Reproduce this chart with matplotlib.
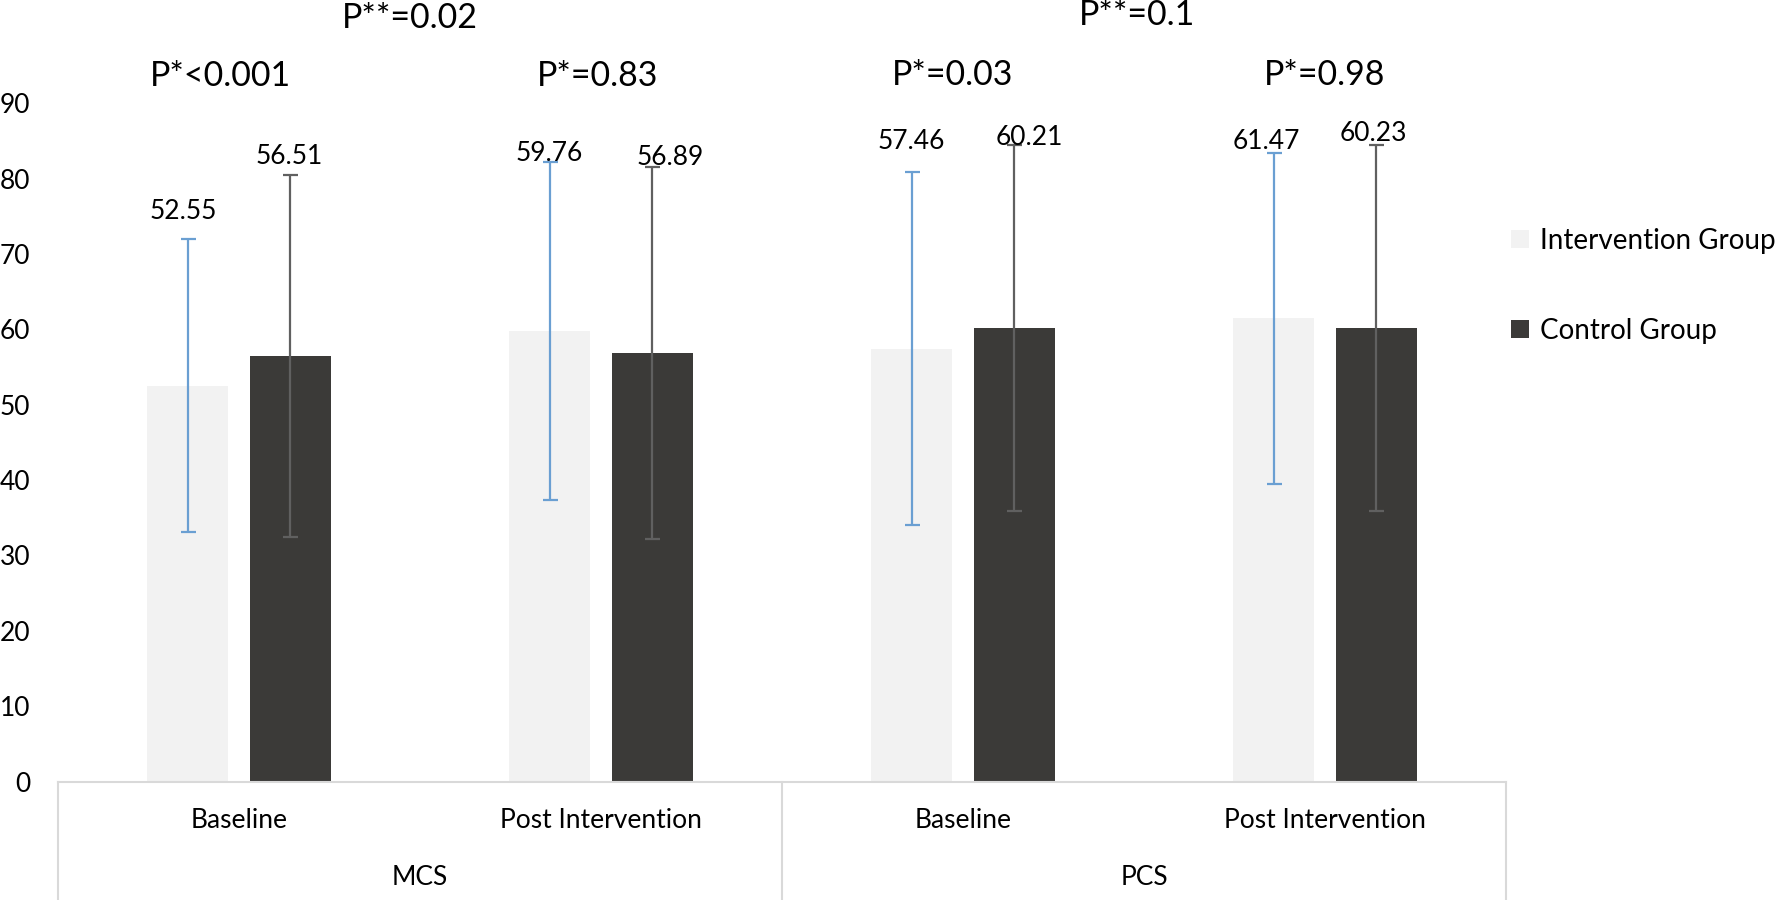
import matplotlib

matplotlib.use("Agg")
import matplotlib.pyplot as plt
import matplotlib.transforms as mtransforms
import numpy as np

plt.rcParams["font.family"] = ["Lato", "DejaVu Sans"]

# data
phases = ["Baseline", "Post Intervention", "Baseline", "Post Intervention"]
scales = ["MCS", "PCS"]
series = ["Intervention Group", "Control Group"]
intervention_mean = [52.55, 59.76, 57.46, 61.47]
intervention_sd = [19.5, 22.4, 23.4, 22.0]
control_mean = [56.51, 56.89, 60.21, 60.23]
control_sd = [24.0, 24.7, 24.3, 24.3]
p_within = ["P*<0.001", "P*=0.83", "P*=0.03", "P*=0.98"]
p_between = ["P**=0.02", "P**=0.1"]
yticks = list(range(0, 100, 10))

# hand-placed label positions (as in the source figure)
int_label_dx = [-0.012, 0.0, 0.0, -0.02]
int_label_y = [75.6, 83.3, 84.9, 84.9]
ctl_label_dx = [-0.003, 0.048, 0.04, -0.007]
ctl_label_y = [83.0, 82.8, 85.4, 86.0]
p_within_x = [-0.05, 0.99, 1.97, 3.0]
p_within_y = [93.6, 93.6, 93.7, 93.7]
p_between_x = [0.473, 2.48]
p_between_y = [101.3, 101.7]

INT_FILL, CTL_FILL = "#f2f2f2", "#3b3a38"
INT_ERR, CTL_ERR = "#6a9fd2", "#606060"
BOX = "#d9d9d9"
FS = 19

fig = plt.figure(figsize=(17.76, 9.0), dpi=100)
ax = fig.add_axes([58 / 1776, 1 - 781.5 / 900, (1506 - 58) / 1776, (781.5 - 103.3) / 900])

x = np.arange(len(phases))
w, off = 0.224, 0.142
ax.bar(x - off, intervention_mean, w, color=INT_FILL, label=series[0], zorder=2)
ax.bar(x + off, control_mean, w, color=CTL_FILL, label=series[1], zorder=2)
ax.errorbar(x - off, intervention_mean, yerr=intervention_sd, fmt="none",
            ecolor=INT_ERR, elinewidth=1.6, capsize=5.4, capthick=1.6, zorder=3)
ax.errorbar(x + off, control_mean, yerr=control_sd, fmt="none",
            ecolor=CTL_ERR, elinewidth=1.6, capsize=5.4, capthick=1.6, zorder=3)

for i in range(len(phases)):
    ax.text(x[i] - off + int_label_dx[i], int_label_y[i], f"{intervention_mean[i]:.2f}",
            ha="center", va="center", fontsize=FS, zorder=4)
    ax.text(x[i] + off + ctl_label_dx[i], ctl_label_y[i], f"{control_mean[i]:.2f}",
            ha="center", va="center", fontsize=FS, zorder=4)

for xi, yi, t in zip(p_within_x, p_within_y, p_within):
    ax.text(xi, yi, t, ha="center", va="center", fontsize=24.5, clip_on=False)
for xi, yi, t in zip(p_between_x, p_between_y, p_between):
    ax.text(xi, yi, t, ha="center", va="center", fontsize=24.5, clip_on=False)

ax.set_xlim(-0.5, 3.5)
ax.set_ylim(0, 90)
ax.set_yticks(yticks)
ax.set_xticks([])
ax.tick_params(axis="y", length=0, pad=20, labelsize=FS)
for s in ["top", "right", "left"]:
    ax.spines[s].set_visible(False)
ax.spines["bottom"].set_color(BOX)
ax.spines["bottom"].set_linewidth(1.5)

# two-level category axis drawn by hand
trans = mtransforms.blended_transform_factory(ax.transData, ax.transAxes)
for i, name in enumerate(phases):
    ax.text(x[i], -0.058, name, transform=trans, ha="center", va="center", fontsize=FS)
for j, name in enumerate(scales):
    ax.text(2 * j + 0.5, -0.142, name, transform=trans, ha="center", va="center", fontsize=FS)
for xv in [-0.5, 1.5, 3.5]:
    ax.plot([xv, xv], [0, -0.2], transform=trans, color=BOX, lw=1.5, clip_on=False)

ax.legend(loc="upper left", bbox_to_anchor=(0.996, 0.833), frameon=False, fontsize=20,
          handlelength=0.62, handleheight=0.62, handletextpad=0.4, labelspacing=2.3,
          borderaxespad=0.0)

fig.savefig("out.png", dpi=100, facecolor="white")
